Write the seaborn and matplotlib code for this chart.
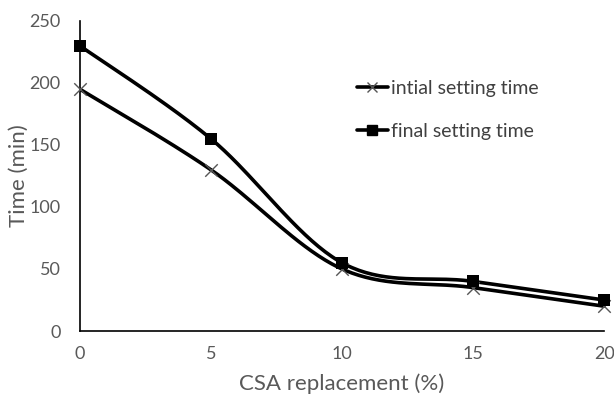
import numpy as np
import pandas as pd
import matplotlib
matplotlib.use("Agg")
import matplotlib.pyplot as plt
import seaborn as sns

x_vals = [0, 5, 10, 15, 20]
initial = [195, 130, 50, 35, 20]
final = [230, 155, 55, 40, 25]
x_ticks = [0, 5, 10, 15, 20]
y_ticks = [0, 50, 100, 150, 200, 250]

sns.set_theme(style="white")
plt.rcParams['font.family'] = ['Lato', 'DejaVu Sans']

def smooth(xs, ys, n=40):
    # Excel-style smoothed line: Catmull-Rom cubic Bezier between points
    P = np.column_stack([xs, ys]).astype(float)
    out = []
    m = len(P)
    for i in range(m - 1):
        p0 = P[i - 1] if i > 0 else P[i]
        p1 = P[i]
        p2 = P[i + 1]
        p3 = P[i + 2] if i + 2 < m else P[i + 1]
        c1 = p1 + (p2 - p0) / 6.0
        c2 = p2 - (p3 - p1) / 6.0
        t = np.linspace(0, 1, n)[:, None]
        seg = ((1 - t) ** 3) * p1 + 3 * ((1 - t) ** 2) * t * c1 + 3 * (1 - t) * t ** 2 * c2 + t ** 3 * p2
        out.append(seg if i == 0 else seg[1:])
    s = np.vstack(out)
    return s[:, 0], s[:, 1]

fig = plt.figure(figsize=(6.14, 3.95), dpi=100)
ax = fig.add_axes([0.130, 0.162, 0.854, 0.785])

df = pd.DataFrame({"x": x_vals * 2,
                   "y": initial + final,
                   "series": ["intial setting time"] * 5 + ["final setting time"] * 5})

for name, ys, mk, msz, mcol in [("intial setting time", initial, "x", 9, "#555555"),
                                 ("final setting time", final, "s", 9, "black")]:
    sx, sy = smooth(x_vals, ys)
    sns.lineplot(x=sx, y=sy, ax=ax, color="black", lw=2.6, sort=False, estimator=None)
    sub = df[df.series == name]
    sns.scatterplot(data=sub, x="x", y="y", ax=ax, marker=mk, s=msz ** 2,
                    color=mcol, edgecolor=mcol if mk == "s" else None,
                    linewidth=1.0 if mk == "x" else 0, zorder=5, clip_on=False)

ax.set_xlim(0, 20)
ax.set_ylim(0, 250)
ax.set_xticks(x_ticks)
ax.set_yticks(y_ticks)
for s in ["top", "right"]:
    ax.spines[s].set_visible(False)
for s in ["left", "bottom"]:
    ax.spines[s].set_color("black")
    ax.spines[s].set_linewidth(1.2)
ax.tick_params(axis="both", direction="in", length=5, width=1.2, color="black",
               labelsize=13, labelcolor="#595959", pad=11)
ax.tick_params(axis="y", pad=14)
ax.set_xlabel("CSA replacement (%)", fontsize=16, color="#595959", labelpad=8)
ax.set_ylabel("Time (min)", fontsize=16, color="#595959", labelpad=0)

from matplotlib.lines import Line2D
handles = [Line2D([], [], color="black", lw=2.6, marker="x", markersize=7,
                  markeredgecolor="#555555", markeredgewidth=1.0),
           Line2D([], [], color="black", lw=2.6, marker="s", markersize=7)]
leg = ax.legend(handles, ["intial setting time", "final setting time"],
                loc="upper left", bbox_to_anchor=(0.495, 0.865), frameon=False,
                fontsize=14, handlelength=1.6, handletextpad=0.15, labelspacing=1.3)
for t in leg.get_texts():
    t.set_color("#404040")

fig.savefig("out.png", dpi=100)
